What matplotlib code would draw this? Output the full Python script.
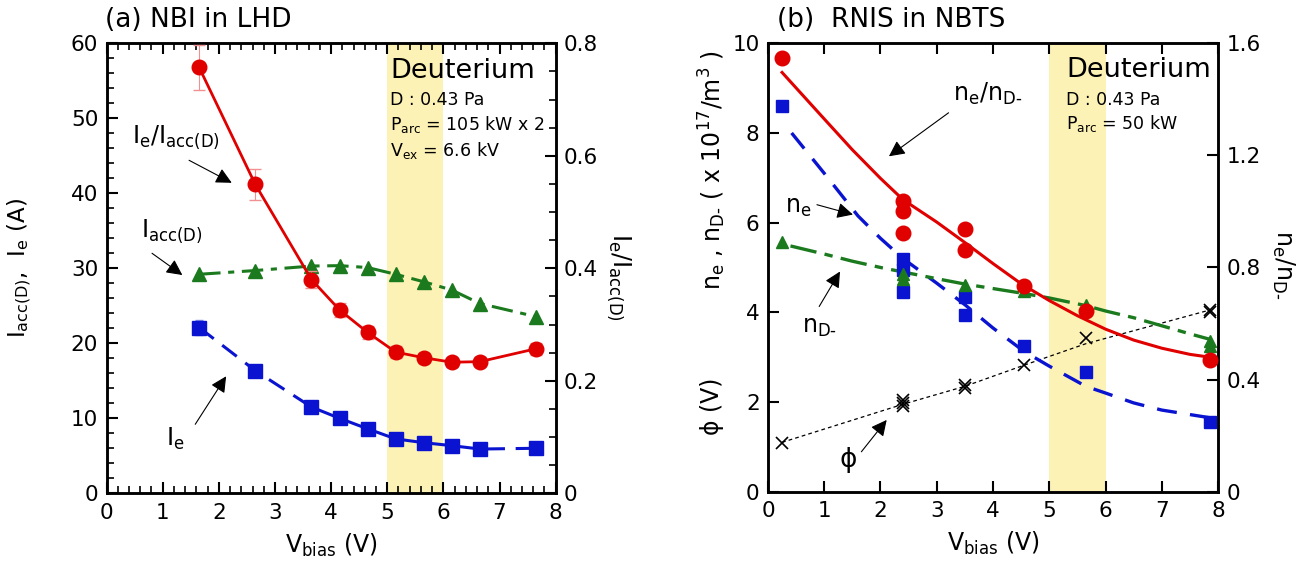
import matplotlib
matplotlib.use("Agg")
import matplotlib.pyplot as plt
from matplotlib.ticker import MultipleLocator

plt.rcParams['font.family'] = ['DejaVu Sans']
plt.rcParams['mathtext.default'] = 'regular'

# ---- (a) NBI in LHD ----
vb_a = [1.65, 2.65, 3.65, 4.15, 4.65, 5.15, 5.65, 6.15, 6.65, 7.65]
ratio_a = [0.757, 0.549, 0.380, 0.326, 0.286, 0.251, 0.241, 0.233, 0.234, 0.257]
ratio_a_err = [0.040, 0.027, 0.015, 0.013, 0.012, 0.011, 0.009, 0.008, 0.008, 0.011]
iacc_a = [29.2, 29.7, 30.3, 30.35, 30.1, 29.2, 28.2, 27.1, 25.3, 23.55]
ie_a = [22.1, 16.35, 11.5, 10.0, 8.6, 7.25, 6.75, 6.35, 5.9, 6.0]
ie_a_err = [1.0, 0.6, 0.5, 0.4, 0.4, 0.3, 0.3, 0.3, 0.3, 0.3]

# ---- (b) RNIS in NBTS ----
vb_ratio_b = [0.25, 2.4, 2.4, 2.4, 3.5, 3.5, 4.55, 5.65, 7.85]
ratio_b = [1.546, 1.037, 1.003, 0.923, 0.938, 0.864, 0.734, 0.643, 0.470]
vb_ratio_fit = [0.25, 1.0, 1.5, 2.0, 2.4, 3.0, 3.5, 4.0, 4.5, 5.0, 5.5, 6.0, 6.5, 7.0, 7.5, 7.85]
ratio_fit = [1.496, 1.330, 1.220, 1.118, 1.042, 0.962, 0.889, 0.814, 0.742, 0.682,
             0.628, 0.580, 0.541, 0.512, 0.490, 0.480]

vb_ne_b = [0.25, 2.4, 2.4, 2.4, 3.5, 3.5, 4.55, 5.65, 7.85]
ne_b = [8.61, 5.2, 4.95, 4.46, 4.35, 3.93, 3.26, 2.66, 1.56]
vb_ne_fit = [0.42, 1.0, 1.6, 2.0, 2.4, 3.0, 3.5, 4.0, 4.55, 5.0, 5.65, 6.0, 6.5, 7.0, 7.85]
ne_fit = [8.0, 7.1, 6.15, 5.65, 5.2, 4.65, 4.17, 3.65, 3.13, 2.8, 2.35, 2.2, 1.98, 1.82, 1.65]

vb_nd_b = [0.25, 2.4, 2.4, 3.5, 4.55, 5.65, 7.85, 7.85]
nd_b = [5.57, 4.85, 4.75, 4.6, 4.48, 4.17, 3.35, 3.25]
vb_nd_fit = [0.4, 1.0, 1.5, 2.0, 2.4, 3.0, 3.5, 4.0, 4.55, 5.0, 5.65, 6.0, 6.5, 7.0, 7.5, 7.85]
nd_fit = [5.48, 5.3, 5.14, 5.0, 4.9, 4.75, 4.63, 4.53, 4.42, 4.32, 4.15, 4.03, 3.88, 3.7, 3.52, 3.4]

vb_phi_b = [0.25, 2.4, 2.4, 2.4, 3.5, 3.5, 4.55, 5.65, 7.85, 7.85]
phi_b = [1.08, 2.05, 1.98, 1.92, 2.37, 2.31, 2.83, 3.42, 4.05, 4.0]
vb_phi_line = [0.25, 2.4, 3.5, 4.55, 5.65, 7.85]
phi_line = [1.1, 1.95, 2.35, 2.82, 3.3, 4.05]

RED = '#e00000'
BLUE = '#0a14d0'
GREEN = '#1b7a1e'
SHADE = '#fdf2b6'
TICK_FS = 15.5
LABEL_FS = 17

ND = r'$n_{D\text{-}}$'
NE_ND = r'$n_{e}/n_{D\text{-}}$'

arrow = dict(arrowstyle='-|>', color='k', lw=0.8, mutation_scale=24, shrinkA=0, shrinkB=0)

fig = plt.figure(figsize=(13.09, 5.71), dpi=100)

# ================= panel (a) =================
ax1 = fig.add_axes([0.0814, 0.1361, 0.3431, 0.7881])
ax1r = ax1.twinx()

ax1.axvspan(5, 6, color=SHADE, zorder=0, lw=0)
ax1.errorbar(vb_a, ie_a, yerr=ie_a_err, color=BLUE, ecolor='#8090e8', elinewidth=0.8,
             capsize=3, marker='s', ms=9.5, lw=2.2, ls=(0, (6, 3.5)), zorder=3)
ax1.plot(vb_a, iacc_a, color=GREEN, marker='^', ms=10, lw=2.2,
         ls=(0, (7, 2.5, 2, 2.5)), zorder=3)
ax1r.errorbar(vb_a, ratio_a, yerr=ratio_a_err, color=RED, ecolor='#f09090', elinewidth=0.8,
              capsize=4, marker='o', ms=10.5, lw=2.0, zorder=3)

ax1.set_xlim(0, 8)
ax1.set_ylim(0, 60)
ax1r.set_ylim(0, 0.8)
ax1.xaxis.set_major_locator(MultipleLocator(1))
ax1.xaxis.set_minor_locator(MultipleLocator(0.2))
ax1.yaxis.set_major_locator(MultipleLocator(10))
ax1.yaxis.set_minor_locator(MultipleLocator(2))
ax1r.set_yticks([0, 0.2, 0.4, 0.6, 0.8])
ax1r.set_yticklabels(['0', '0.2', '0.4', '0.6', '0.8'])
ax1r.yaxis.set_minor_locator(MultipleLocator(0.05))
ax1.tick_params(axis='x', which='both', direction='in', top=True, labelsize=TICK_FS, pad=7)
ax1.tick_params(axis='y', which='both', direction='in', right=False, labelsize=TICK_FS, pad=6)
ax1.tick_params(which='major', length=8, width=1.5)
ax1.tick_params(which='minor', length=5, width=1.2)
ax1r.tick_params(axis='y', which='both', direction='in', labelsize=TICK_FS, pad=6)
ax1r.tick_params(which='major', length=8, width=1.5)
ax1r.tick_params(which='minor', length=5, width=1.2)
for a in (ax1, ax1r):
    for s in a.spines.values():
        s.set_linewidth(1.8)

ax1.set_xlabel(r'$V_{bias}$ (V)', fontsize=LABEL_FS, labelpad=6)
ax1.set_ylabel(r'$I_{acc(D)}$,  $I_{e}$ (A)', fontsize=16.5)
ax1.yaxis.set_label_coords(-0.162, 0.5)
ax1r.set_ylabel(r'$I_{e}/I_{acc(D)}$', fontsize=LABEL_FS, rotation=270, va='center')
ax1r.yaxis.set_label_coords(1.14, 0.48)
ax1.text(-0.003, 1.052, '(a) NBI in LHD', transform=ax1.transAxes, fontsize=19,
         ha='left', va='center')

ax1.text(5.05, 56.3, 'Deuterium', fontsize=19.5, ha='left', va='center')
ax1.text(5.05, 52.4, 'D : 0.43 Pa', fontsize=12.5, ha='left', va='center')
ax1.text(5.05, 49.2, r'$P_{arc}$ = 105 kW x 2', fontsize=12.5, ha='left', va='center')
ax1.text(5.05, 45.7, r'$V_{ex}$ = 6.6 kV', fontsize=12.5, ha='left', va='center')

ax1.text(1.24, 47.4, r'$I_{e}/I_{acc(D)}$', fontsize=LABEL_FS, ha='center', va='center')
ax1.annotate('', xy=(2.23, 41.4), xytext=(1.47, 44.4), arrowprops=arrow)
ax1.text(1.17, 34.9, r'$I_{acc(D)}$', fontsize=LABEL_FS, ha='center', va='center')
ax1.annotate('', xy=(1.35, 29.1), xytext=(0.81, 32.0), arrowprops=arrow)
ax1.text(1.23, 7.3, r'$I_{e}$', fontsize=LABEL_FS, ha='center', va='center')
ax1.annotate('', xy=(2.13, 15.6), xytext=(1.58, 9.2), arrowprops=arrow)

# ================= panel (b) =================
ax2 = fig.add_axes([0.5867, 0.1389, 0.3438, 0.7853])
ax2r = ax2.twinx()

ax2.axvspan(5, 6, color=SHADE, zorder=0, lw=0)
ax2.plot(vb_phi_line, phi_line, color='k', lw=0.9, ls=(0, (3, 2.5)), zorder=2)
ax2.plot(vb_phi_b, phi_b, 'x', color='k', ms=8, mew=1.2, zorder=3)
ax2.plot(vb_ne_fit, ne_fit, color=BLUE, lw=2.4, ls=(0, (6, 4)), zorder=2)
ax2.plot(vb_ne_b, ne_b, 's', color=BLUE, ms=8.5, zorder=3)
ax2.plot(vb_nd_fit, nd_fit, color=GREEN, lw=2.4, ls=(0, (8, 2.5, 2.5, 2.5)), zorder=2)
ax2.plot(vb_nd_b, nd_b, '^', color=GREEN, ms=9, zorder=3)
ax2r.plot(vb_ratio_fit, ratio_fit, color=RED, lw=2.2, zorder=2)
ax2r.plot(vb_ratio_b, ratio_b, 'o', color=RED, ms=10.5, zorder=3)

ax2.set_xlim(0, 8)
ax2.set_ylim(0, 10)
ax2r.set_ylim(0, 1.6)
ax2.xaxis.set_major_locator(MultipleLocator(1))
ax2.yaxis.set_major_locator(MultipleLocator(2))
ax2r.set_yticks([0, 0.4, 0.8, 1.2, 1.6])
ax2r.set_yticklabels(['0', '0.4', '0.8', '1.2', '1.6'])
ax2.tick_params(axis='x', direction='in', top=True, labelsize=TICK_FS, pad=7,
                length=8, width=1.5)
ax2.tick_params(axis='y', direction='in', right=False, labelsize=TICK_FS, pad=6,
                length=8, width=1.5)
ax2r.tick_params(axis='y', direction='in', labelsize=TICK_FS, pad=6, length=8, width=1.5)
for a in (ax2, ax2r):
    for s in a.spines.values():
        s.set_linewidth(1.8)

ax2.set_xlabel(r'$V_{bias}$ (V)', fontsize=LABEL_FS, labelpad=6)
ax2.text(-0.124, 0.717, r'$n_{e}$ , $n_{D\text{-}}$ ( x 10$^{17}$/m$^{3}$ )',
         transform=ax2.transAxes, fontsize=LABEL_FS, rotation=90, ha='center', va='center')
ax2.text(-0.124, 0.19, 'ϕ (V)', transform=ax2.transAxes,
         fontsize=LABEL_FS, rotation=90, ha='center', va='center')
ax2r.set_ylabel(NE_ND, fontsize=LABEL_FS, rotation=270, va='center')
ax2r.yaxis.set_label_coords(1.144, 0.506)
ax2.text(0.02, 1.052, '(b)  RNIS in NBTS', transform=ax2.transAxes, fontsize=19,
         ha='left', va='center')

ax2.text(5.3, 9.41, 'Deuterium', fontsize=19.5, ha='left', va='center')
ax2.text(5.3, 8.74, 'D : 0.43 Pa', fontsize=12.5, ha='left', va='center')
ax2.text(5.3, 8.2, r'$P_{arc}$ = 50 kW', fontsize=12.5, ha='left', va='center')

ax2.text(3.9, 8.88, NE_ND, fontsize=LABEL_FS, ha='center', va='center')
ax2.annotate('', xy=(2.15, 7.48), xytext=(3.21, 8.45), arrowprops=arrow)
ax2.text(0.53, 6.36, r'$n_{e}$', fontsize=LABEL_FS, ha='center', va='center')
ax2.annotate('', xy=(1.51, 6.18), xytext=(0.87, 6.4), arrowprops=arrow)
ax2.text(0.91, 3.68, ND, fontsize=LABEL_FS, ha='center', va='center')
ax2.annotate('', xy=(1.28, 4.91), xytext=(0.91, 4.13), arrowprops=arrow)
ax2.text(1.42, 0.71, 'ϕ', fontsize=LABEL_FS + 2, ha='center', va='center')
ax2.annotate('', xy=(2.11, 1.6), xytext=(1.66, 0.89), arrowprops=arrow)

fig.savefig('out.png', dpi=100)
